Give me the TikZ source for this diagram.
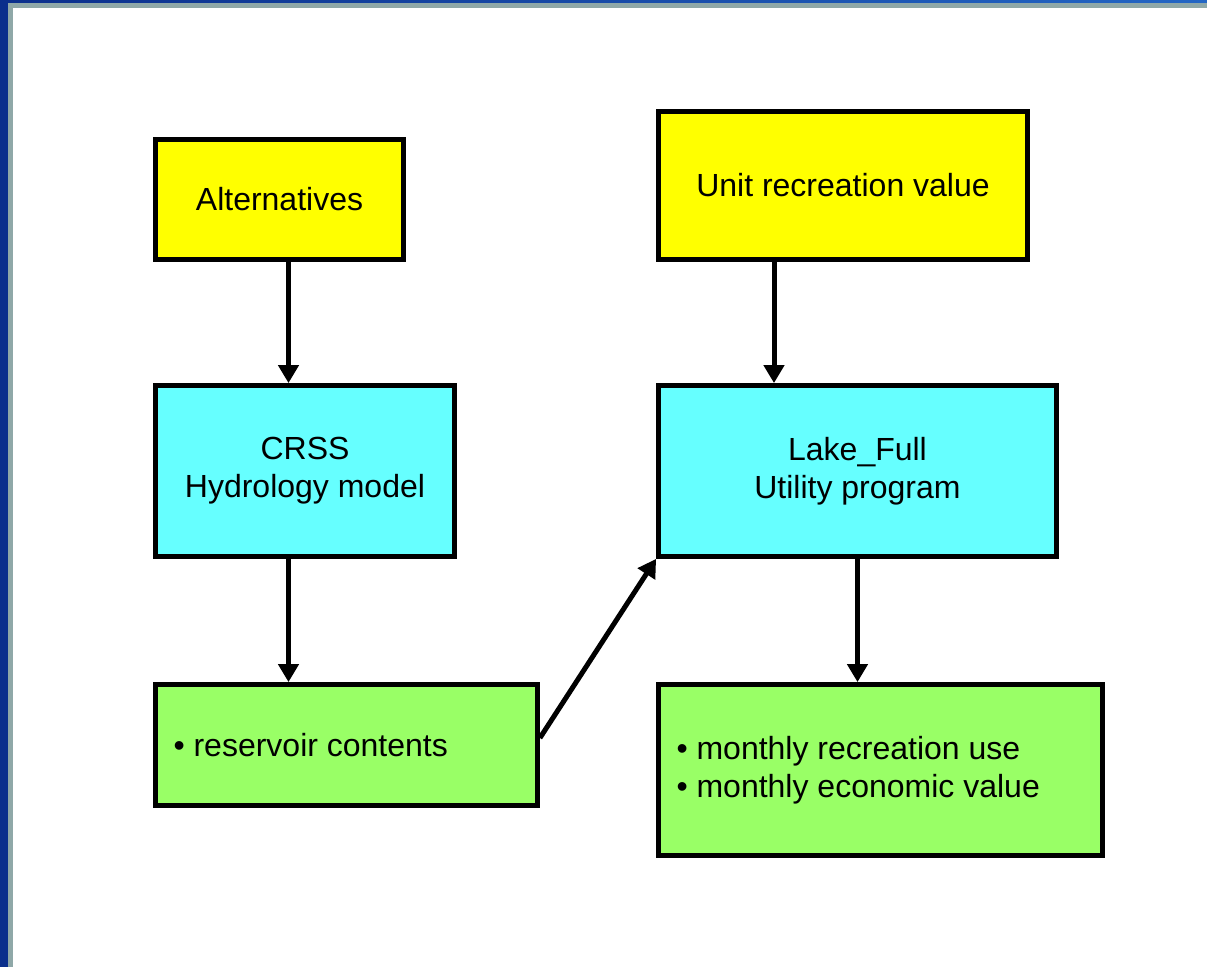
\documentclass[tikz,border=0pt]{standalone}
\usepackage{fontspec}
\setmainfont{Liberation Sans}
\usepackage{xcolor}
\usepackage{tikz}
\usetikzlibrary{arrows.meta,calc,positioning}
\definecolor{boxyellow}{HTML}{FFFF00}
\definecolor{boxcyan}{HTML}{66FFFF}
\definecolor{boxgreen}{HTML}{99FF66}
\definecolor{framedark}{HTML}{0B2F8C}
\definecolor{framelight}{HTML}{2366C4}
\definecolor{framegray}{HTML}{8FA8A8}

\begin{document}
\begin{tikzpicture}[x=0.5pt, y=-0.5pt,
    box/.style={draw=black, line width=2.4pt, font=\fontsize{16}{19}\selectfont, align=center, inner sep=0pt},
    arr/.style={-{Triangle[width=10pt,length=9pt]}, line width=2.5pt}]
    \useasboundingbox (0,0) rectangle (1207,967);

    % slide frame
    \fill[white] (0,0) rectangle (1207,967);
    \shade[left color=framedark, right color=framelight] (0,0) rectangle (1207,3.5);
    \fill[framedark] (0,0) rectangle (7.5,967);
    \fill[framegray] (7.5,3.5) rectangle (1207,8.5);
    \fill[framegray] (7.5,3.5) rectangle (12.5,967);

    % inputs
    \node[box, fill=boxyellow, minimum width=124pt, minimum height=60pt] (alt) at (279.5,199.5) {Alternatives};
    \node[box, fill=boxyellow, minimum width=184.5pt, minimum height=74pt] (unitval) at (843,185.5) {Unit recreation value};

    % models
    \node[box, fill=boxcyan, minimum width=149.5pt, minimum height=85.5pt] (crss) at (305,471) {CRSS\\Hydrology model};
    \node[box, fill=boxcyan, minimum width=199pt, minimum height=85.5pt] (lakefull) at (857.5,471) {Lake\_Full\\Utility program};

    % outputs
    \node[box, fill=boxgreen, align=flush left, inner xsep=9pt, text width=173pt, minimum height=60.5pt] (reservoir) at (346.5,745) {\textbullet\ reservoir contents};
    \node[box, fill=boxgreen, align=flush left, inner xsep=9pt, text width=204pt, minimum height=85.5pt] (monthly) at (880.5,770) {\textbullet\ monthly recreation use\\\textbullet\ monthly economic value};

    % arrows
    \draw[arr] ([xshift=4.5pt]alt.south) -- ([xshift=4.5pt]alt.south |- crss.north);
    \draw[arr] ([xshift=-34.5pt]unitval.south) -- ([xshift=-34.5pt]unitval.south |- lakefull.north);
    \draw[arr] ([xshift=-8.25pt]crss.south) -- ([xshift=-8.25pt]crss.south |- reservoir.north);
    \draw[arr] (lakefull.south) -- (lakefull.south |- monthly.north);
    \draw[arr] ([yshift=3.5pt]reservoir.east) -- (lakefull.south west);
\end{tikzpicture}
\end{document}
